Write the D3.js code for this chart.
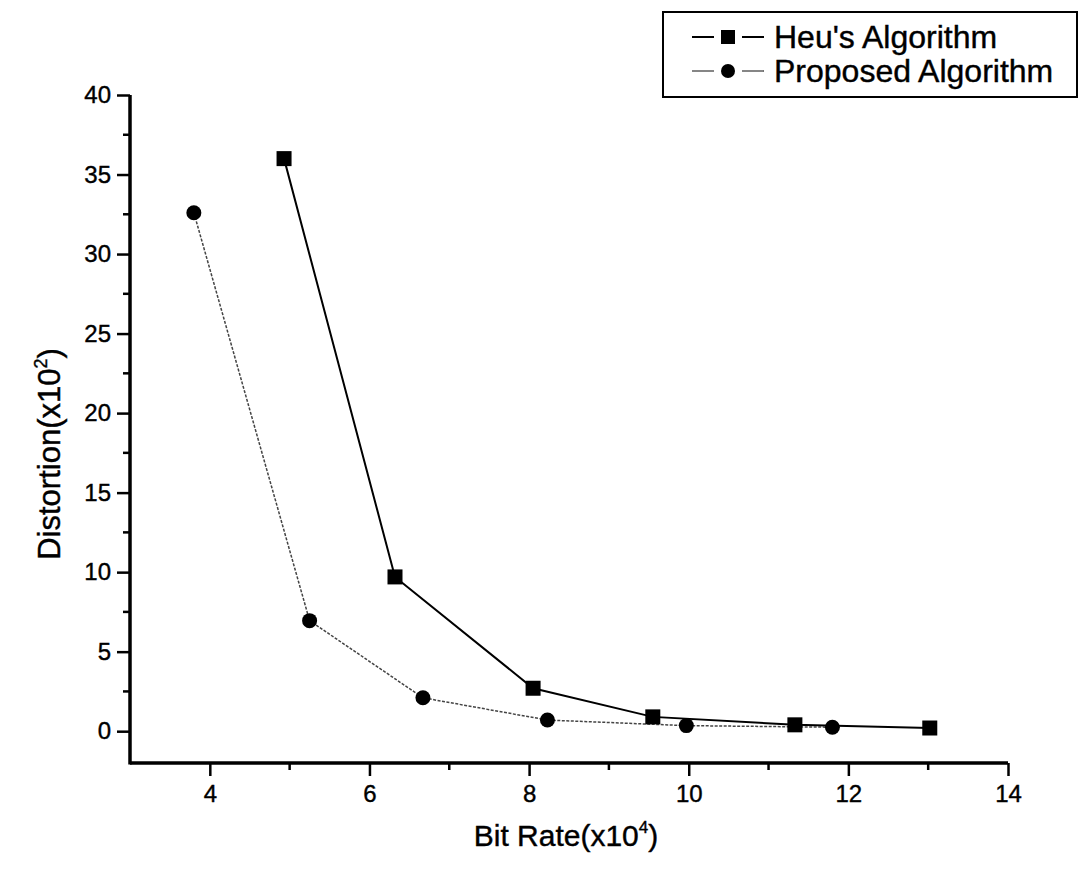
<!DOCTYPE html>
<html>
<head>
<meta charset="utf-8">
<script src="https://cdn.jsdelivr.net/npm/d3@7"></script>
<style>
  body { margin: 0; background: #fff; }
  svg { font-family: "Liberation Sans", Arial, sans-serif; }
  text { stroke: #000; stroke-width: 0.4px; fill: #000; }
</style>
</head>
<body>
<div id="chart"></div>
<script>
// data
const heuX = [4.93, 6.32, 8.05, 9.55, 11.33, 13.02];
const heuY = [36.0, 9.7, 2.7, 0.9, 0.4, 0.2];
const propX = [3.8, 5.25, 6.67, 8.23, 9.97, 11.8];
const propY = [32.6, 6.95, 2.1, 0.7, 0.35, 0.25];
const xTicks = [4, 6, 8, 10, 12, 14];
const yTicks = [0, 5, 10, 15, 20, 25, 30, 35, 40];
const seriesNames = ["Heu's Algorithm", "Proposed Algorithm"];

const width = 1080, height = 875;
const margin = { top: 95, right: 72, bottom: 112, left: 130 };

const svg = d3.select('#chart').append('svg')
    .attr('width', width)
    .attr('height', height);

const x = d3.scaleLinear().domain([3, 14]).range([margin.left, width - margin.right]);
// y=40 sits at the top of the axis
const y = d3.scaleLinear().domain([-2, 40]).range([height - margin.bottom, margin.top]);

// axes
const xAxis = d3.axisBottom(x).tickValues(xTicks).tickSize(13).tickPadding(9).tickFormat(d3.format('d'));
const yAxis = d3.axisLeft(y).tickValues(yTicks).tickSize(13).tickPadding(6).tickFormat(d3.format('d'));

const gx = svg.append('g')
    .attr('transform', `translate(0,${height - margin.bottom})`)
    .call(xAxis);
const gy = svg.append('g')
    .attr('transform', `translate(${margin.left},0)`)
    .call(yAxis);

// minor ticks
const xMinor = d3.range(5, 14, 2);
const yMinor = d3.range(2.5, 40, 5);
gx.selectAll('.minor').data(xMinor).enter().append('line')
    .attr('class', 'minor')
    .attr('x1', d => x(d)).attr('x2', d => x(d))
    .attr('y1', 0).attr('y2', 7)
    .attr('stroke', '#000').attr('stroke-width', 2.5);
gy.selectAll('.minor').data(yMinor).enter().append('line')
    .attr('class', 'minor')
    .attr('y1', d => y(d)).attr('y2', d => y(d))
    .attr('x1', 0).attr('x2', -7)
    .attr('stroke', '#000').attr('stroke-width', 2.5);

[gx, gy].forEach(g => {
    g.select('.domain').attr('stroke', '#000').attr('stroke-width', 3.5);
    g.selectAll('.tick line').attr('stroke', '#000').attr('stroke-width', 2.5);
    g.selectAll('.tick text').attr('fill', '#000').style('font-size', '24px').style('font-family', '"Liberation Sans", Arial, sans-serif');
});
gx.select('.domain').attr('d', `M${x(3)},0H${x(14)}`);
gy.select('.domain').attr('d', `M0,${y(-2) + 1.5}V${y(40)}`);

// axis titles
const xt = svg.append('text')
    .attr('x', 566)
    .attr('y', 846)
    .attr('text-anchor', 'middle')
    .style('font-size', '30px');
xt.append('tspan').text('Bit Rate(x10');
xt.append('tspan').attr('dy', -13).style('font-size', '17px').text('4');
xt.append('tspan').attr('dy', 13).text(')');

const yt = svg.append('text')
    .attr('transform', `translate(60,454) rotate(-90)`)
    .attr('text-anchor', 'middle')
    .style('font-size', '31px');
yt.append('tspan').text('Distortion(x10');
yt.append('tspan').attr('dy', -13).style('font-size', '18px').text('2');
yt.append('tspan').attr('dy', 13).text(')');

// series
const heu = heuX.map((d, i) => ({ x: d, y: heuY[i] }));
const prop = propX.map((d, i) => ({ x: d, y: propY[i] }));
const line = d3.line().x(d => x(d.x)).y(d => y(d.y));

svg.append('path').datum(prop)
    .attr('d', line)
    .attr('fill', 'none')
    .attr('stroke', '#444')
    .attr('stroke-width', 1.5)
    .attr('stroke-dasharray', '3,1.5');
svg.append('path').datum(heu)
    .attr('d', line)
    .attr('fill', 'none')
    .attr('stroke', '#000')
    .attr('stroke-width', 2);

svg.selectAll('.sq').data(heu).enter().append('rect')
    .attr('class', 'sq')
    .attr('x', d => x(d.x) - 7.5).attr('y', d => y(d.y) - 7.5)
    .attr('width', 15).attr('height', 15)
    .attr('fill', '#000');
svg.selectAll('.dot').data(prop).enter().append('circle')
    .attr('class', 'dot')
    .attr('cx', d => x(d.x)).attr('cy', d => y(d.y))
    .attr('r', 7.5)
    .attr('fill', '#000');

// legend
const lg = svg.append('g');
lg.append('rect')
    .attr('x', 663).attr('y', 12)
    .attr('width', 414).attr('height', 85)
    .attr('fill', '#fff').attr('stroke', '#000').attr('stroke-width', 2);

const rows = [37, 71];
[[692, 714], [742, 764]].forEach(([a, b]) => {
    lg.append('line').attr('x1', a).attr('x2', b).attr('y1', rows[0]).attr('y2', rows[0])
        .attr('stroke', '#000').attr('stroke-width', 2);
    lg.append('line').attr('x1', a).attr('x2', b).attr('y1', rows[1]).attr('y2', rows[1])
        .attr('stroke', '#444').attr('stroke-width', 1.3);
});
lg.append('rect').attr('x', 721).attr('y', rows[0] - 7).attr('width', 14).attr('height', 14).attr('fill', '#000');
lg.append('circle').attr('cx', 728).attr('cy', rows[1]).attr('r', 7).attr('fill', '#000');

lg.selectAll('.lt').data(seriesNames).enter().append('text')
    .attr('class', 'lt')
    .attr('x', 774)
    .attr('y', (d, i) => rows[i] + 11)
    .style('font-size', '32px')
    .text(d => d);
</script>
</body>
</html>
